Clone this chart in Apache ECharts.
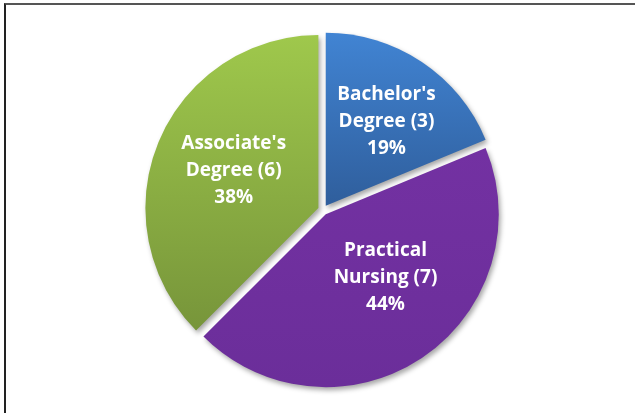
<!DOCTYPE html>
<html>
<head>
<meta charset="utf-8">
<script src="https://cdn.jsdelivr.net/npm/echarts@6/dist/echarts.min.js"></script>
<style>
  html, body { margin: 0; padding: 0; background: #fff; overflow: hidden; }
  #frame {
    position: absolute; left: 4px; top: 3px;
    width: 700px; height: 500px;
    border-left: 2px solid #222; border-top: 2px solid #555;
  }
  #main { position: absolute; left: 0; top: 0; width: 635px; height: 413px; }
</style>
</head>
<body>
<div id="frame"></div>
<div id="main"></div>
<script>
// categories and counts
var categories = ["Bachelor's\nDegree (3)", "Practical\nNursing (7)", "Associate's\nDegree (6)"];
var counts = [3, 7, 6];
var percents = ["19%", "44%", "38%"];

// slice colours (top -> bottom gradient)
var gradients = [
  ["#4184d3", "#2f5e9c"],
  ["#7331a2", "#6b2e9a"],
  ["#9fc84c", "#77953a"]
];
// nudge labels to roughly where Excel put them
var labelShift = [[11, -10], [10, -11], [-2, -3]];

var myChart = echarts.init(document.getElementById("main"));

var pieData = counts.map(function (v, i) {
  return {
    name: categories[i],
    value: v,
    selected: true,
    itemStyle: {
      color: new echarts.graphic.LinearGradient(0, 0, 0, 1, [
        { offset: 0, color: gradients[i][0] },
        { offset: 1, color: gradients[i][1] }
      ])
    }
  };
});

myChart.setOption({
  animation: false,
  series: [
    {
      type: "pie",
      center: [323, 210],
      radius: [0, 173],
      startAngle: 90,
      clockwise: true,
      selectedMode: "multiple",
      selectedOffset: 5,
      itemStyle: {
        borderWidth: 0,
        shadowBlur: 5,
        shadowOffsetX: 2,
        shadowOffsetY: 3,
        shadowColor: "rgba(0,0,0,0.35)"
      },
      label: {
        show: true,
        position: "inside",
        color: "#fff",
        fontFamily: "Open Sans",
        fontWeight: "bold",
        fontSize: 19,
        lineHeight: 27,
        align: "center",
        formatter: function (p) {
          return p.name + "\n" + percents[p.dataIndex];
        }
      },
      labelLayout: function (p) {
        return { dx: labelShift[p.dataIndex][0], dy: labelShift[p.dataIndex][1] };
      },
      labelLine: { show: false },
      emphasis: { disabled: true },
      data: pieData
    }
  ]
});
</script>
</body>
</html>
